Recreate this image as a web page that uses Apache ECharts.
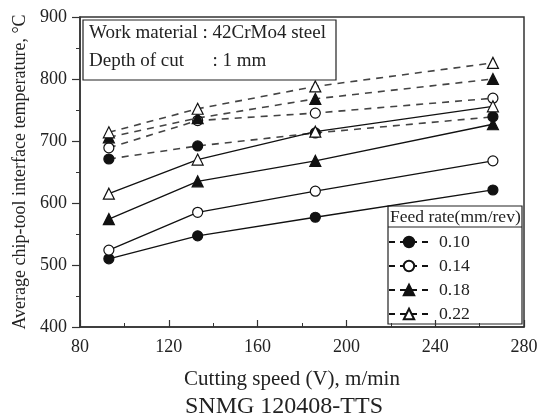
<!DOCTYPE html>
<html><head><meta charset="utf-8">
<script src="https://cdn.jsdelivr.net/npm/echarts@6/dist/echarts.min.js"></script>
<style>html,body{margin:0;padding:0;background:#fff}#c{width:549px;height:419px}</style>
</head><body><div id="c"></div>
<script>
const speeds = [93, 133, 186, 266];
const feedRates = ['0.10', '0.14', '0.18', '0.22'];
// solid lines
const solid010 = [510, 547, 577, 621];
const solid014 = [524, 585, 619, 668];
const solid018 = [574, 635, 668, 727];
const solid022 = [615, 670, 715, 756];
// dashed lines
const dash010 = [671, 692, 713, 739];
const dash014 = [689, 733, 745, 769];
const dash018 = [706, 737, 768, 800];
const dash022 = [714, 752, 788, 826];
const xTicks = [80, 120, 160, 200, 240, 280];
const yTicks = [400, 500, 600, 700, 800, 900];

const FONT = '"Liberation Serif", "DejaVu Serif", serif';
const symbols = [
  {symbol:'circle', fill:'#111', size:10},
  {symbol:'circle', fill:'#fff', size:10},
  {symbol:'triangle', fill:'#111', size:11},
  {symbol:'triangle', fill:'#fff', size:11}
];
const solidSets = [solid010, solid014, solid018, solid022];
const dashSets = [dash010, dash014, dash018, dash022];
const series = [];
dashSets.forEach((vals, i) => {
  series.push({
    name: 'd' + feedRates[i], type: 'line',
    data: vals.map((v, j) => [speeds[j], v]),
    symbol: symbols[i].symbol, symbolSize: symbols[i].size,
    itemStyle: {color: symbols[i].fill, borderColor: '#111', borderWidth: 1.2},
    lineStyle: {color: '#444', width: 1.6, type: [7, 6]},
    z: 2
  });
});
solidSets.forEach((vals, i) => {
  series.push({
    name: feedRates[i], type: 'line',
    data: vals.map((v, j) => [speeds[j], v]),
    symbol: symbols[i].symbol, symbolSize: symbols[i].size,
    itemStyle: {color: symbols[i].fill, borderColor: '#111', borderWidth: 1.2},
    lineStyle: {color: '#111', width: 1.3},
    z: 3
  });
});

const chart = echarts.init(document.getElementById('c'));
chart.setOption({
  animation: false,
  backgroundColor: '#fff',
  grid: {left: 80, right: 25, top: 17, bottom: 92, show: true, borderColor: '#333', borderWidth: 1.5, backgroundColor: 'transparent'},
  xAxis: {
    type: 'value', min: xTicks[0], max: xTicks[xTicks.length - 1], interval: 40,
    axisLine: {lineStyle: {color: '#333', width: 1.5}},
    axisTick: {inside: true, length: 7, lineStyle: {color: '#333', width: 1.2}},
    minorTick: {show: true, splitNumber: 2, length: 4, lineStyle: {color: '#333'}},
    axisLabel: {fontFamily: FONT, fontSize: 18, color: '#222', margin: 11},
    splitLine: {show: false}
  },
  yAxis: {
    type: 'value', min: yTicks[0], max: yTicks[yTicks.length - 1], interval: 100,
    name: 'Average chip-tool interface temperature, °C', nameLocation: 'middle', nameGap: 47,
    nameTextStyle: {fontFamily: FONT, fontSize: 18, color: '#222'},
    axisLine: {show: true, lineStyle: {color: '#333', width: 1.5}},
    axisTick: {show: true, inside: false, length: 8, lineStyle: {color: '#333', width: 1.2}},
    minorTick: {show: true, splitNumber: 2, length: 4, lineStyle: {color: '#333'}},
    axisLabel: {fontFamily: FONT, fontSize: 18, color: '#222', margin: 13},
    splitLine: {show: false}
  },
  legend: {
    data: feedRates, orient: 'vertical', left: 388, top: 233,
    padding: 0,
    itemWidth: 40, itemHeight: 13, itemGap: 6,
    textStyle: {fontFamily: FONT, fontSize: 17.7, color: '#222', padding: [0, 0, 0, 5]},
    lineStyle: {type: [6, 5]}
  },
  graphic: [
    {type: 'rect', shape: {x: 83, y: 20, width: 253, height: 60}, style: {fill: '#fff', stroke: '#222', lineWidth: 1.2}, z: 10},
    {type: 'text', x: 89, y: 33, style: {text: 'Work material : 42CrMo4 steel', font: '19px ' + FONT, fill: '#222', textVerticalAlign: 'middle'}, z: 11},
    {type: 'text', x: 89, y: 61, style: {text: 'Depth of cut      : 1 mm', font: '19px ' + FONT, fill: '#222', textVerticalAlign: 'middle'}, z: 11},
    {type: 'rect', shape: {x: 388, y: 206, width: 134, height: 118}, style: {fill: '#fff', stroke: '#222', lineWidth: 1.2}, z: 0},
    {type: 'line', shape: {x1: 388, y1: 227, x2: 522, y2: 227}, style: {stroke: '#222', lineWidth: 1.2}, z: 1},
    {type: 'text', x: 390, y: 217, style: {text: 'Feed rate(mm/rev)', font: '17.5px ' + FONT, fill: '#222', textVerticalAlign: 'middle'}, z: 11},
    {type: 'text', x: 292, y: 379, style: {text: 'Cutting speed (V), m/min', font: '21px ' + FONT, fill: '#222', textAlign: 'center', textVerticalAlign: 'middle'}, z: 11},
    {type: 'text', x: 284, y: 407, style: {text: 'SNMG 120408-TTS', font: '24px ' + FONT, fill: '#222', textAlign: 'center', textVerticalAlign: 'middle'}, z: 11}
  ],
  series: series
});
</script></body></html>
